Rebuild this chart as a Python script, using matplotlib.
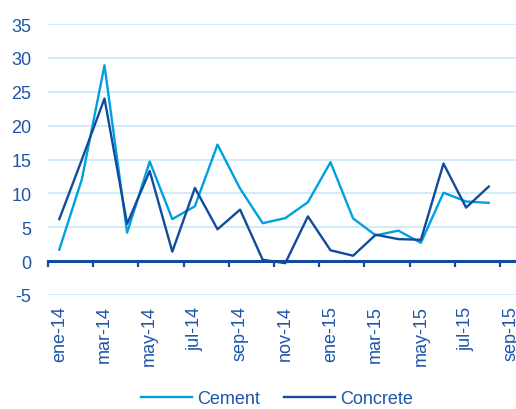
import matplotlib
matplotlib.use("Agg")
import matplotlib.pyplot as plt
import numpy as np

plt.rcParams['font.family'] = ['Liberation Sans', 'DejaVu Sans']

months = ["ene-14", "feb-14", "mar-14", "abr-14", "may-14", "jun-14", "jul-14",
          "ago-14", "sep-14", "oct-14", "nov-14", "dic-14", "ene-15", "feb-15",
          "mar-15", "abr-15", "may-15", "jun-15", "jul-15", "ago-15", "sep-15"]
cement = [1.7, 12.1, 28.9, 4.2, 14.7, 6.2, 8.1, 17.2, 10.7, 5.6, 6.35, 8.7,
          14.6, 6.3, 3.8, 4.5, 2.7, 10.1, 8.8, 8.6]
concrete = [6.2, 15.0, 24.0, 5.5, 13.3, 1.4, 10.8, 4.7, 7.6, 0.2, -0.3, 6.6,
            1.6, 0.8, 3.9, 3.25, 3.15, 14.4, 7.9, 11.0]
y_ticks = [-5, 0, 5, 10, 15, 20, 25, 30, 35]

CEMENT_C = "#00A0E0"
CONCRETE_C = "#124A9C"
TEXT_C = "#1F55A8"
GRID_C = "#CBEAF9"
FS = 13

fig = plt.figure(figsize=(5.16, 4.10), dpi=100)
ax = fig.add_axes([48 / 516, 114 / 410, 474.6 / 516, 271 / 410])

x = np.arange(len(cement))
l1, = ax.plot(x, cement, color=CEMENT_C, lw=1.7, label="Cement")
l2, = ax.plot(x, concrete, color=CONCRETE_C, lw=1.7, label="Concrete")

ax.set_xlim(-0.5, len(months) - 0.5)
ax.set_ylim(-5, 35)
ax.set_yticks(y_ticks)
ax.set_yticklabels([str(v) for v in y_ticks])
ax.yaxis.grid(True, color=GRID_C, lw=1.3)
ax.set_axisbelow(True)
for s in ("left", "right", "top"):
    ax.spines[s].set_visible(False)
ax.spines["bottom"].set_position(("data", 0))
ax.spines["bottom"].set_color(CONCRETE_C)
ax.spines["bottom"].set_linewidth(2.2)
ax.spines["bottom"].set_zorder(1.5)

ax.tick_params(axis="y", length=0, pad=12, labelsize=FS, labelcolor=TEXT_C)

# boundary tick marks every two months, labels centred on categories
ax.set_xticks(np.arange(-0.5, len(months), 2))
ax.set_xticklabels([])
ax.tick_params(axis="x", which="major", direction="out", length=4.5, width=1.6,
               color=CONCRETE_C)
ax.set_xticks(np.arange(0, len(months), 2), minor=True)
ax.set_xticklabels(months[::2], minor=True, rotation=90)
ax.tick_params(axis="x", which="minor", length=0, pad=32, labelsize=FS,
               labelcolor=TEXT_C)

leg = fig.legend(handles=[l1, l2], loc="center", bbox_to_anchor=(277 / 516, 10 / 410),
                 ncol=2, frameon=False, fontsize=FS, handlelength=2.85,
                 columnspacing=1.3, handletextpad=0.3)
for t in leg.get_texts():
    t.set_color(TEXT_C)

fig.savefig("out.png", dpi=100)
